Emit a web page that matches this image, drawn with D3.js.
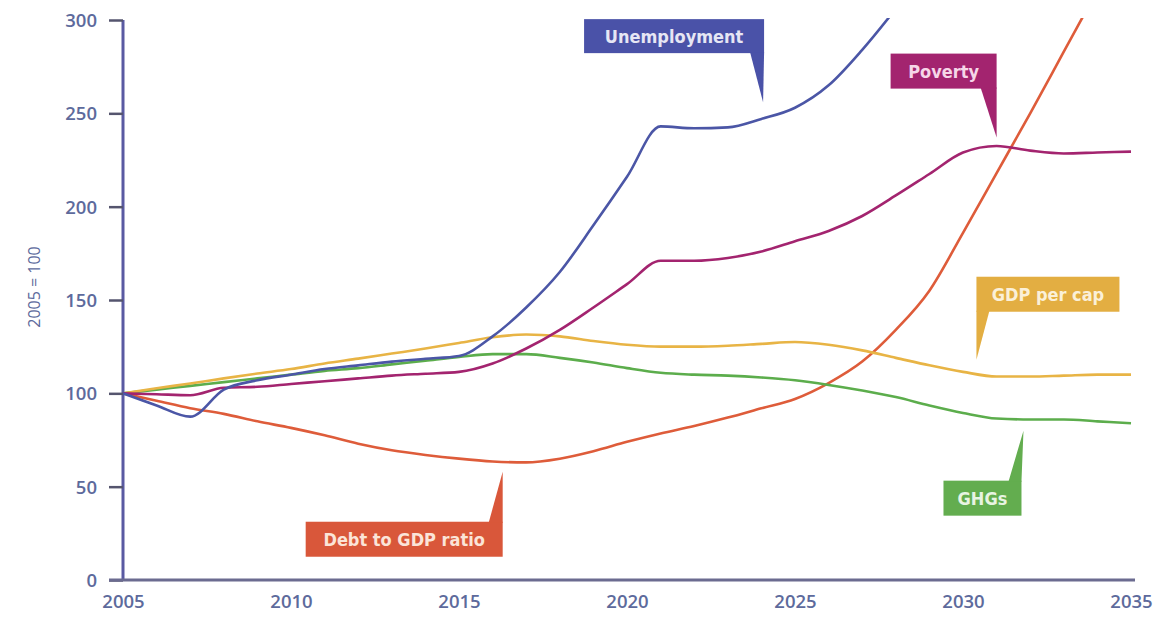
<!DOCTYPE html>
<html>
<head>
<meta charset="utf-8">
<script src="https://cdn.jsdelivr.net/npm/d3@7"></script>
<style>
  html, body { margin: 0; padding: 0; background: #ffffff; }
  svg { display: block; }
  .tick-label { font-family: "Open Sans", "DejaVu Sans", sans-serif; font-weight: 600; font-size: 18.5px; fill: #5d6a9c; }
  .callout text { font-family: "DejaVu Sans Condensed", "Open Sans", sans-serif; font-weight: bold; font-size: 18px; }
</style>
</head>
<body>
<script>
// ---------------- DATA ----------------
const years = [2005,2006,2007,2008,2009,2010,2011,2012,2013,2014,2015,2016,2017,2018,2019,2020,
               2021,2022,2023,2024,2025,2026,2027,2028,2029,2030,2031,2032,2033,2034,2035];

const unemployment = [100,93.5,87.5,102,107,110,113,115,117,118.5,120,130.5,146,165,190,216,
                      243,242,242.5,247,253,265,284,306,null,null,null,null,null,null,null];
const poverty      = [100,99.5,99,103,103.5,105,106.5,108,109.5,110.5,111.5,116,124,134,146,158.5,
                      171,171,172.5,176,181.5,187,195,206,217.5,229,232.5,230,228.5,229,229.5];
const debtToGdp    = [100,96,92,89,85,81.5,77.5,73,69.5,67,65,63.5,63,65,69,74,
                      78.5,82.5,87,92,97,105.5,117,134,155,186,218,250,283,316,null];
const gdpPerCap    = [100,102.7,105.3,108,110.6,113,116,118.6,121.3,124,127,130,131.5,130.5,128,126,
                      125,125,125.5,126.5,127.5,126,123,119,115,111.5,109,109,109.5,110,110];
const ghgs         = [100,102,104,106,108,110,112,113.5,115.5,117.5,119.5,121,121,119,116.5,113.5,
                      111,110,109.5,108.5,107,104.5,101.5,98,93.5,89.5,86.5,86,86,85,84];

const seriesNames  = ["Unemployment","Poverty","Debt to GDP ratio","GDP per cap","GHGs"];
const seriesColors = ["#4b56a6","#a3246f","#de5c3a","#e8b445","#5cad4c"];
const seriesValues = [unemployment, poverty, debtToGdp, gdpPerCap, ghgs];

const yTicks = [0,50,100,150,200,250,300];
const xTicks = [2005,2010,2015,2020,2025,2030,2035];
const yAxisTitle = "2005 = 100";

// callout anchors (data coordinates of the pointer tip)
const calloutTipYear  = [2024.05, 2031.0, 2016.3, 2030.4, 2031.8];
const calloutTipValue = [256, 237, 58, 118, 80];

// ---------------- LAYOUT ----------------
const W = 1159, H = 625;
const x = d3.scaleLinear().domain([2005, 2035]).range([123, 1131]);
const y = d3.scaleLinear().domain([0, 300]).range([580, 20]);

const svg = d3.select("body").append("svg").attr("width", W).attr("height", H);

svg.append("defs").append("clipPath").attr("id", "plotclip")
  .append("rect").attr("x", x(2005)).attr("y", y(300) - 2)
  .attr("width", x(2035) - x(2005) + 4).attr("height", y(0) - y(300) + 2);

// axes
const yAxisG = svg.append("g").attr("transform", `translate(${x(2005)},0)`)
  .call(d3.axisLeft(y).tickValues(yTicks).tickSize(14).tickPadding(12));
yAxisG.select(".domain").attr("d", `M0,${y(300)}V${y(0)}`).attr("stroke", "#5a5aa2").attr("stroke-width", 3);
yAxisG.selectAll(".tick line").attr("stroke", "#55556e").attr("stroke-width", 2.5);
yAxisG.selectAll(".tick text").attr("class", "tick-label").attr("dy", "0.35em");

const xAxisG = svg.append("g").attr("transform", `translate(0,${y(0)})`)
  .call(d3.axisBottom(x).tickValues(xTicks).tickFormat(d3.format("d")).tickSize(0).tickPadding(15));
xAxisG.select(".domain").attr("d", `M${x(2005) - 14},0H${x(2035) + 4}`).attr("stroke", "#6b6b90").attr("stroke-width", 3);
xAxisG.selectAll(".tick text").attr("class", "tick-label");

svg.append("text")
  .attr("class", "tick-label")
  .attr("transform", `translate(34,${y(150) - 13}) rotate(-90)`)
  .attr("text-anchor", "middle")
  .attr("dy", "0.35em")
  .style("font-size", "16px")
  .style("font-weight", "500")
  .text(yAxisTitle);

// lines
const line = d3.line()
  .defined(d => d[1] != null)
  .x(d => x(d[0])).y(d => y(d[1]))
  .curve(d3.curveMonotoneX);

const drawOrder = [2, 4, 3, 1, 0];
const linesG = svg.append("g").attr("clip-path", "url(#plotclip)");
drawOrder.forEach(i => {
  linesG.append("path")
    .datum(years.map((yr, k) => [yr, seriesValues[i][k]]))
    .attr("fill", "none")
    .attr("stroke", seriesColors[i])
    .attr("stroke-width", 2.6)
    .attr("stroke-linejoin", "round")
    .attr("d", line);
});

// callouts: box geometry relative to the tip (layout only)
const calloutBoxes = [
  { dx: -179, dy: -83, w: 180, h: 34, side: "right", dir: "down", base: 14 },
  { dx: -106, dy: -84, w: 106, h: 35, side: "right", dir: "down", base: 16 },
  { dx: -197, dy: 50,  w: 197, h: 35, side: "right", dir: "up",   base: 14 },
  { dx: 0,    dy: -83, w: 143, h: 35, side: "left",  dir: "down", base: 13 },
  { dx: -80,  dy: 50,  w: 78,  h: 35, side: "right", dir: "up",   base: 13 }
];
const textColors = ["#e6e6f4","#f6d6e8","#fbe4d8","#fbf0d8","#e8f4e2"];
const boxColors  = ["#4a52a8","#a3246f","#d9573a","#e3ae42","#63ad4f"];

seriesNames.forEach((name, i) => {
  const tx = x(calloutTipYear[i]), ty = y(calloutTipValue[i]);
  const b = calloutBoxes[i];
  const bx = tx + b.dx, by = ty + b.dy;
  const g = svg.append("g").attr("class", "callout");
  let pointer;
  if (b.dir === "down") {
    const edgeY = by + b.h;
    if (b.side === "right") {
      const rx = bx + b.w;
      pointer = `M${rx - b.base},${edgeY - 1}L${rx},${edgeY - 1}L${rx},${edgeY}L${tx},${ty}Z`;
    } else {
      pointer = `M${bx},${edgeY - 1}L${bx + b.base},${edgeY - 1}L${tx},${ty}L${bx},${edgeY}Z`;
    }
  } else {
    const edgeY = by;
    const rx = bx + b.w;
    pointer = `M${rx - b.base},${edgeY + 1}L${tx},${ty}L${rx},${edgeY}L${rx},${edgeY + 1}Z`;
  }
  g.append("rect").attr("x", bx).attr("y", by).attr("width", b.w).attr("height", b.h).attr("fill", boxColors[i]);
  g.append("path").attr("d", pointer).attr("fill", boxColors[i]);
  g.append("text")
    .attr("x", bx + b.w / 2).attr("y", by + b.h / 2)
    .attr("dy", "0.36em").attr("text-anchor", "middle")
    .attr("fill", textColors[i])
    .text(name);
});
</script>
</body>
</html>
